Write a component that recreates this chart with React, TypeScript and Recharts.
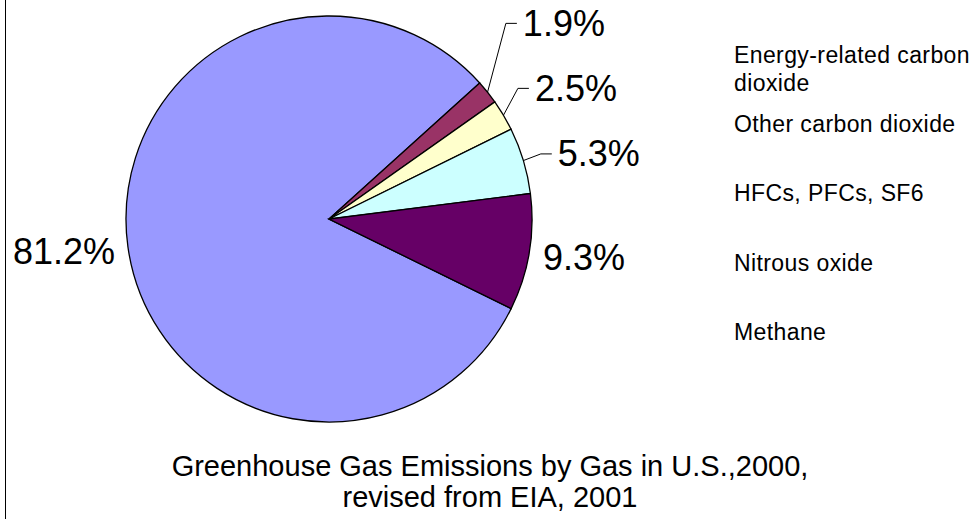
import React from "react";
import { PieChart, Pie, Cell, Legend } from "recharts";

// data
const CATEGORIES = [
  "Energy-related carbon dioxide",
  "Other carbon dioxide",
  "HFCs, PFCs, SF6",
  "Nitrous oxide",
  "Methane",
];
const SHARES = [81.2, 1.9, 2.5, 5.3, 9.3];

// styling / layout
const COLORS = ["#9999FF", "#993366", "#FFFFCC", "#CCFFFF", "#660066"];
// label nudges relative to the radial default spot, [dx, dy]
const LABEL_NUDGE: Array<[number, number]> = [
  [1, 2.5],
  [24.4, -60.1],
  [19.4, -19.7],
  [21, -2.6],
  [0, 3],
];
const HAS_LEADER = [false, true, true, true, false];

const FONT = "Arial, 'Liberation Sans', sans-serif";
const RAD = Math.PI / 180;

const data = CATEGORIES.map((name, i) => ({ name, share: SHARES[i] }));

function renderLabel(props: any) {
  const { cx, cy, midAngle, outerRadius, index } = props;
  const cos = Math.cos(-midAngle * RAD);
  const sin = Math.sin(-midAngle * RAD);
  const r = outerRadius + 14;
  const [dx, dy] = LABEL_NUDGE[index];
  const x = cx + r * cos + dx;
  const y = cy + r * sin + dy;
  const anchor = x < cx ? "end" : "start";
  const ex = cx + outerRadius * cos;
  const ey = cy + outerRadius * sin;
  return (
    <g key={`lbl-${index}`}>
      {HAS_LEADER[index] && (
        <polyline
          points={`${ex},${ey} ${x - 17},${y} ${x - 6},${y}`}
          fill="none"
          stroke="#000"
          strokeWidth={1}
        />
      )}
      <text
        x={x}
        y={y}
        textAnchor={anchor}
        dominantBaseline="central"
        fontSize={36}
        fontFamily={FONT}
        fill="#000"
      >
        {SHARES[index].toFixed(1)}%
      </text>
    </g>
  );
}

// legend keeps the series order (no swatches in the reference)
function LegendList() {
  return (
    <div style={{ fontFamily: FONT, fontSize: 23, letterSpacing: 0.4, lineHeight: "28.4px", color: "#000" }}>
      {CATEGORIES.map((name) => (
        <div key={name} style={{ height: 69.2, overflow: "visible" }}>
          {name}
        </div>
      ))}
    </div>
  );
}

export default function App() {
  return (
    <div style={{ position: "absolute", left: 0, top: 0, width: 979, height: 519, background: "#fff" }}>
      <div style={{ position: "absolute", left: 5, top: 0, width: 1, height: 519, background: "#000" }} />
      <PieChart width={979} height={519} margin={{ top: 0, right: 0, bottom: 0, left: 0 }}>
        <Pie
          data={data}
          dataKey="share"
          nameKey="name"
          cx={329}
          cy={219}
          outerRadius={203}
          startAngle={-26.2}
          endAngle={-386.2}
          stroke="#000"
          strokeWidth={1.3}
          label={renderLabel}
          labelLine={false}
          isAnimationActive={false}
        >
          {data.map((d, i) => (
            <Cell key={d.name} fill={COLORS[i]} />
          ))}
        </Pie>
        <Legend
          layout="vertical"
          align="right"
          verticalAlign="top"
          content={<LegendList />}
          wrapperStyle={{ left: 734, top: 41, width: 240, right: "auto", bottom: "auto" }}
        />
      </PieChart>
      <div
        style={{
          position: "absolute",
          left: 90,
          top: 451,
          width: 800,
          textAlign: "center",
          whiteSpace: "nowrap",
          fontFamily: FONT,
          fontSize: 29,
          lineHeight: "31.3px",
          color: "#000",
        }}
      >
        Greenhouse Gas Emissions by Gas in U.S.,2000,
        <br />
        revised from EIA, 2001
      </div>
    </div>
  );
}
